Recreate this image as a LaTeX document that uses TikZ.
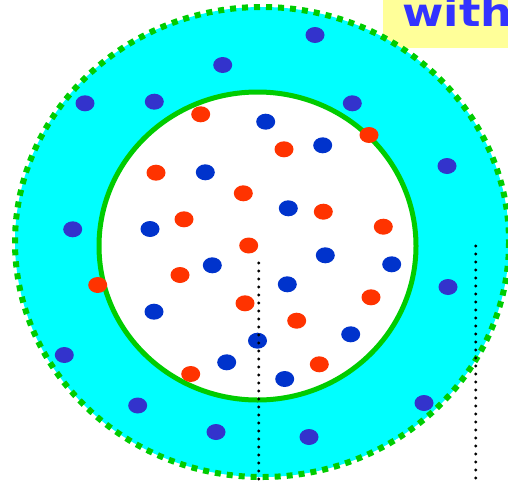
\documentclass[tikz,border=0pt]{standalone}
\usepackage{fontspec}
\newfontfamily\labelfont{DejaVu Sans}
\definecolor{ringcyan}{RGB}{0,255,255}
\definecolor{rimgreen}{RGB}{0,204,0}
\definecolor{dotred}{RGB}{255,51,0}
\definecolor{ringblue}{RGB}{51,51,204}
\definecolor{innerblue}{RGB}{0,51,204}
\definecolor{notebg}{RGB}{255,255,153}
\definecolor{notefg}{RGB}{51,51,255}
\tikzset{
  rdot/.style={fill=dotred, draw=none, ellipse, minimum width=19pt, minimum height=16pt, inner sep=0pt},
  bdot/.style={fill=innerblue, draw=none, ellipse, minimum width=19pt, minimum height=16pt, inner sep=0pt},
  odot/.style={fill=ringblue, draw=none, ellipse, minimum width=19pt, minimum height=16pt, inner sep=0pt},
  guide/.style={line width=3.2pt, line cap=round, dash pattern=on 0pt off 8pt, black},
}
\usetikzlibrary{shapes.geometric}
\begin{document}
\begin{tikzpicture}[x=1pt,y=-1pt]
\useasboundingbox (0,0) rectangle (508,482);
\clip (0,0) rectangle (508,482);
% note box
\node[fill=notebg, draw=none, minimum width=130pt, minimum height=48pt, anchor=north west, inner sep=0pt] (notebox) at (383,0) {};
\node[anchor=base west, inner sep=0pt, text=notefg, xscale=1.15, font=\labelfont\bfseries\fontsize{39}{39}\selectfont] (notetext) at (402,26) {with};
% outer ring
\fill[ringcyan] (262,242) ellipse [x radius=247, y radius=235];
\draw[rimgreen, line width=6pt, dash pattern=on 6pt off 6pt] (262,242) ellipse [x radius=247, y radius=235];
% inner disc
\draw[rimgreen, fill=white, line width=5pt] (257.5,246) ellipse [x radius=158.5, y radius=154];
% ring dots
\node[odot] (o1) at (315,35) {};
\node[odot] (o2) at (222.7,65) {};
\node[odot] (o3) at (85,103.3) {};
\node[odot] (o4) at (154.3,101.7) {};
\node[odot] (o5) at (352.3,103.3) {};
\node[odot] (o6) at (447,166) {};
\node[odot] (o7) at (72.7,229.3) {};
\node[odot] (o8) at (448,287) {};
\node[odot] (o9) at (64.3,355) {};
\node[odot] (o10) at (137.7,405.5) {};
\node[odot] (o11) at (216,432) {};
\node[odot] (o12) at (309,437) {};
\node[odot] (o13) at (424,403) {};
% red dots
\node[rdot] (r1) at (200.7,114.3) {};
\node[rdot] (r2) at (284,149.3) {};
\node[rdot] (r3) at (156,172.7) {};
\node[rdot] (r4) at (243.3,193.3) {};
\node[rdot] (r5) at (184,219.3) {};
\node[rdot] (r6) at (323.3,211.7) {};
\node[rdot] (r7) at (383.3,226.7) {};
\node[rdot] (r8) at (248.7,245.5) {};
\node[rdot] (r9) at (180,275) {};
\node[rdot] (r10) at (245,303.3) {};
\node[rdot] (r11) at (371,297.3) {};
\node[rdot] (r12) at (296.7,320.7) {};
\node[rdot] (r13) at (190.7,374) {};
\node[rdot] (r14) at (319.3,364.3) {};
\node[rdot] (r15) at (369,135) {};
\node[rdot] (r16) at (97.7,285) {};
% inner blue dots
\node[bdot] (b1) at (265.7,121.7) {};
\node[bdot] (b2) at (322.7,145.3) {};
\node[bdot] (b3) at (205.3,172.3) {};
\node[bdot] (b4) at (150,229) {};
\node[bdot] (b5) at (288.3,208.3) {};
\node[bdot] (b6) at (325.3,255.3) {};
\node[bdot] (b7) at (212.3,265.3) {};
\node[bdot] (b8) at (391.7,264.3) {};
\node[bdot] (b9) at (287.3,284.3) {};
\node[bdot] (b10) at (154,311.7) {};
\node[bdot] (b11) at (350.7,334.3) {};
\node[bdot] (b12) at (257.5,340.7) {};
\node[bdot] (b13) at (226.7,362.3) {};
\node[bdot] (b14) at (284.7,379) {};
% dotted guides
\coordinate (g1top) at (258.7,263);
\coordinate (g1bot) at (258.7,490);
\coordinate (g2top) at (475.7,246);
\coordinate (g2bot) at (475.7,490);
\draw[guide] (g1top) -- (g1bot);
\draw[guide] (g2top) -- (g2bot);
\end{tikzpicture}
\end{document}
